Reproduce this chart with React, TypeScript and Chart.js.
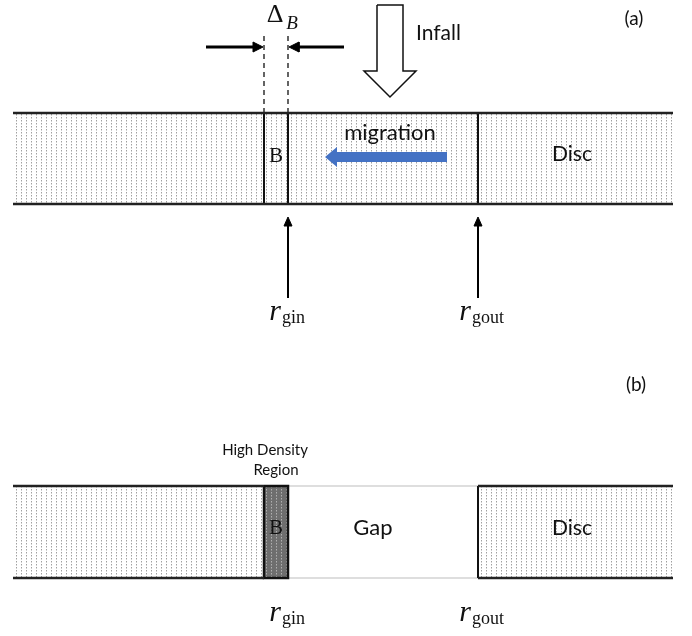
import React, { useEffect, useRef } from 'react';
import { Chart, registerables } from 'chart.js';

Chart.register(...registerables);

// ---- diagram geometry (radial positions along the disc, vertical extents) ----
const discExtent = [13, 673];          // inner / outer edge of the drawn disc
const bufferEdges = [264, 288];        // region B: inner edge, r_gin
const gapEdges = [288, 478];           // r_gin, r_gout
const bandA = [113, 204];              // panel (a) band top / bottom
const bandB = [486, 578];              // panel (b) band top / bottom
const deltaDashY = [36, 113];          // dashed markers of Delta_B
const deltaArrowY = 47;
const deltaArrowX = [206, 344];        // outer starts of the two pointing arrows
const infallArrow = [
  [377, 5], [403, 5], [403, 71], [416, 71], [390, 97], [364, 71], [377, 71], [377, 5],
];
const migrationArrow = [
  [447, 152], [337, 152], [337, 147], [325, 157], [337, 167], [337, 162], [447, 162], [447, 152],
];
const upArrowY = [298, 217];

type Lbl = { text: string; x: number; y: number; font: string; align?: CanvasTextAlign; color?: string };
const SANS = 'Lato, "Open Sans", sans-serif';
const SERIF = '"Liberation Serif", "DejaVu Serif", serif';
const labels: Lbl[] = [
  { text: 'Δ', x: 275, y: 15, font: `26px ${SERIF}` },
  { text: 'B', x: 292, y: 24, font: `italic 19px ${SERIF}` },
  { text: 'Infall', x: 416, y: 33, font: `21px ${SANS}`, align: 'left' },
  { text: '(a)', x: 634, y: 19, font: `19px ${SANS}` },
  { text: 'migration', x: 390, y: 133, font: `22px ${SANS}` },
  { text: 'Disc', x: 572, y: 154, font: `21px ${SANS}` },
  { text: 'B', x: 276, y: 156, font: `21px ${SERIF}` },
  { text: 'r', x: 275, y: 312, font: `italic 30px ${SERIF}` },
  { text: 'gin', x: 282, y: 318, font: `18px ${SERIF}`, align: 'left' },
  { text: 'r', x: 465, y: 312, font: `italic 30px ${SERIF}` },
  { text: 'gout', x: 472, y: 318, font: `18px ${SERIF}`, align: 'left' },
  { text: '(b)', x: 636, y: 385, font: `19px ${SANS}` },
  { text: 'High Density', x: 265, y: 450, font: `15px ${SANS}` },
  { text: 'Region', x: 276, y: 470, font: `15px ${SANS}` },
  { text: 'B', x: 276, y: 528, font: `21px ${SERIF}` },
  { text: 'Gap', x: 373, y: 528, font: `22px ${SANS}` },
  { text: 'Disc', x: 572, y: 528, font: `21px ${SANS}` },
  { text: 'r', x: 275, y: 613, font: `italic 30px ${SERIF}` },
  { text: 'gin', x: 282, y: 619, font: `18px ${SERIF}`, align: 'left' },
  { text: 'r', x: 465, y: 613, font: `italic 30px ${SERIF}` },
  { text: 'gout', x: 472, y: 619, font: `18px ${SERIF}`, align: 'left' },
];

function makePattern(bg: string, dot: string, dot2: string): CanvasPattern | string {
  const c = document.createElement('canvas');
  c.width = 5;
  c.height = 3;
  const g = c.getContext('2d');
  if (!g) return bg;
  g.fillStyle = bg;
  g.fillRect(0, 0, 5, 3);
  g.fillStyle = dot;
  g.fillRect(1, 0, 1, 1);
  g.fillStyle = dot2;
  g.fillRect(1, 1, 1, 1);
  const p = g.createPattern(c, 'repeat');
  return p || bg;
}

const pts = (arr: number[][]) => arr.map(([x, y]) => ({ x, y }));
const rect = (x0: number, x1: number, y0: number, y1: number) =>
  pts([[x0, y0], [x1, y0], [x1, y1], [x0, y1], [x0, y0]]);

function App() {
  const ref = useRef<HTMLCanvasElement | null>(null);
  useEffect(() => {
    if (!ref.current) return;
    const light = makePattern('#ffffff', '#a0a0a0', '#d0d0d0');
    const dark = makePattern('#6e6e6e', '#b0b0b0', '#909090');

    const ds: any[] = [];
    const line = (data: { x: number; y: number }[], color = '#111', width = 2, dash: number[] = [], order = 1) =>
      ds.push({ data, borderColor: color, borderWidth: width, borderDash: dash, fill: false, pointRadius: 0, tension: 0, order, borderCapStyle: 'butt' });
    const shape = (data: { x: number; y: number }[], bg: any, border = 'rgba(0,0,0,0)', width = 0, order = 5) =>
      ds.push({ data, backgroundColor: bg, borderColor: border, borderWidth: width, fill: 'shape', pointRadius: 0, tension: 0, order, borderJoinStyle: 'miter' });
    const head = (tx: number, ty: number, dx: number, dy: number, len = 9, half = 4.5) => {
      const bx = tx - dx * len, by = ty - dy * len;
      const px = -dy * half, py = dx * half;
      shape(pts([[tx, ty], [bx + px, by + py], [bx - px, by - py], [tx, ty]]), '#000', '#000', 1, 0);
    };

    // ---- panel (a) ----
    shape(rect(discExtent[0], discExtent[1], bandA[0], bandA[1]), light, 'rgba(0,0,0,0)', 0, 20);
    line(pts([[discExtent[0], bandA[0]], [discExtent[1], bandA[0]]]), '#222', 2.5);
    line(pts([[discExtent[0], bandA[1]], [discExtent[1], bandA[1]]]), '#222', 2.5);
    line(pts([[bufferEdges[0], bandA[0]], [bufferEdges[0], bandA[1]]]), '#111', 2);
    line(pts([[bufferEdges[1], bandA[0]], [bufferEdges[1], bandA[1]]]), '#111', 2);
    line(pts([[gapEdges[1], bandA[0]], [gapEdges[1], bandA[1]]]), '#111', 2);
    line(pts([[bufferEdges[0], deltaDashY[0]], [bufferEdges[0], deltaDashY[1]]]), '#111', 1.3, [5, 4]);
    line(pts([[bufferEdges[1], deltaDashY[0]], [bufferEdges[1], deltaDashY[1]]]), '#111', 1.3, [5, 4]);
    line(pts([[deltaArrowX[0], deltaArrowY], [bufferEdges[0] - 7, deltaArrowY]]), '#000', 3);
    head(bufferEdges[0] - 1, deltaArrowY, 1, 0, 10, 5);
    line(pts([[deltaArrowX[1], deltaArrowY], [bufferEdges[1] + 7, deltaArrowY]]), '#000', 3);
    head(bufferEdges[1] + 1, deltaArrowY, -1, 0, 10, 5);
    shape(pts(infallArrow), '#ffffff', '#111', 1.5, 2);
    shape(pts(migrationArrow), '#4472C4', 'rgba(0,0,0,0)', 0, 2);
    line(pts([[gapEdges[0], upArrowY[0]], [gapEdges[0], upArrowY[1] + 6]]), '#000', 2);
    head(gapEdges[0], upArrowY[1], 0, -1, 9, 4);
    line(pts([[gapEdges[1], upArrowY[0]], [gapEdges[1], upArrowY[1] + 6]]), '#000', 2);
    head(gapEdges[1], upArrowY[1], 0, -1, 9, 4);

    // ---- panel (b) ----
    shape(rect(discExtent[0], bufferEdges[0], bandB[0], bandB[1]), light, 'rgba(0,0,0,0)', 0, 20);
    shape(rect(gapEdges[1], discExtent[1], bandB[0], bandB[1]), light, 'rgba(0,0,0,0)', 0, 20);
    shape(rect(bufferEdges[0], bufferEdges[1], bandB[0], bandB[1]), dark, '#111', 2.5, 3);
    line(pts([[gapEdges[0], bandB[0]], [gapEdges[1], bandB[0]]]), '#bdbdbd', 1, [], 4);
    line(pts([[gapEdges[0], bandB[1]], [gapEdges[1], bandB[1]]]), '#bdbdbd', 1, [], 4);
    line(pts([[discExtent[0], bandB[0]], [bufferEdges[0], bandB[0]]]), '#222', 2.5);
    line(pts([[discExtent[0], bandB[1]], [bufferEdges[0], bandB[1]]]), '#222', 2.5);
    line(pts([[gapEdges[1], bandB[0]], [discExtent[1], bandB[0]]]), '#222', 2.5);
    line(pts([[gapEdges[1], bandB[1]], [discExtent[1], bandB[1]]]), '#222', 2.5);
    line(pts([[gapEdges[1], bandB[0]], [gapEdges[1], bandB[1]]]), '#111', 2);

    const textPlugin = {
      id: 'diagramText',
      afterDatasetsDraw(chart: any) {
        const { ctx, scales } = chart;
        ctx.save();
        for (const l of labels) {
          ctx.font = l.font;
          ctx.fillStyle = l.color || '#111';
          ctx.textAlign = l.align || 'center';
          ctx.textBaseline = 'middle';
          ctx.fillText(l.text, scales.x.getPixelForValue(l.x), scales.y.getPixelForValue(l.y));
        }
        ctx.restore();
      },
    };

    const chart = new Chart(ref.current, {
      type: 'line',
      data: { datasets: ds },
      options: {
        animation: false,
        responsive: true,
        maintainAspectRatio: false,
        layout: { padding: 0 },
        events: [],
        plugins: { legend: { display: false }, tooltip: { enabled: false }, title: { display: false } },
        scales: {
          x: { type: 'linear', min: 0, max: 692, display: false },
          y: { type: 'linear', min: 0, max: 636, reverse: true, display: false },
        },
      },
      plugins: [textPlugin],
    });
    return () => chart.destroy();
  }, []);

  return (
    <div style={{ position: 'absolute', left: 0, top: 0, width: 692, height: 636, background: '#fff' }}>
      <canvas ref={ref} />
    </div>
  );
}

export default App;
